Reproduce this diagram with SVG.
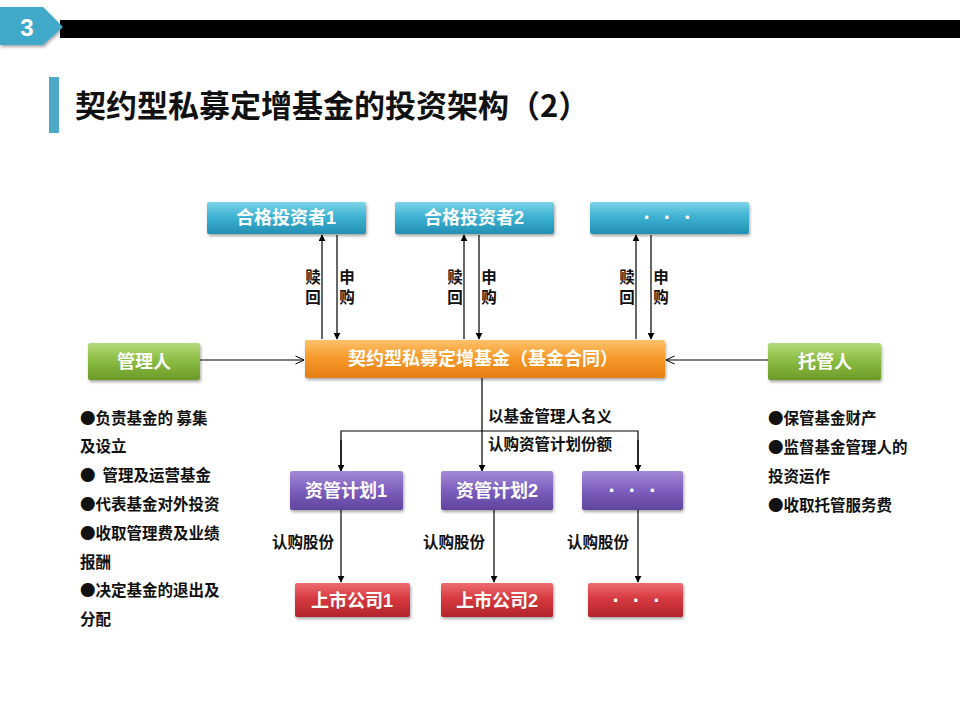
<svg xmlns="http://www.w3.org/2000/svg" width="960" height="720" viewBox="0 0 960 720">
<defs>
<linearGradient id="gTeal" x1="0" y1="0" x2="0" y2="1"><stop offset="0" stop-color="#7dd3e8"/><stop offset="0.45" stop-color="#3fb3d3"/><stop offset="1" stop-color="#2290b3"/></linearGradient>
<linearGradient id="gOrange" x1="0" y1="0" x2="0" y2="1"><stop offset="0" stop-color="#fcc26a"/><stop offset="0.45" stop-color="#f79a2c"/><stop offset="1" stop-color="#e47e12"/></linearGradient>
<linearGradient id="gGreen" x1="0" y1="0" x2="0" y2="1"><stop offset="0" stop-color="#b5d97a"/><stop offset="0.45" stop-color="#8cbd45"/><stop offset="1" stop-color="#6c9a28"/></linearGradient>
<linearGradient id="gPurple" x1="0" y1="0" x2="0" y2="1"><stop offset="0" stop-color="#a48bd6"/><stop offset="0.45" stop-color="#8062c0"/><stop offset="1" stop-color="#60439e"/></linearGradient>
<linearGradient id="gRed" x1="0" y1="0" x2="0" y2="1"><stop offset="0" stop-color="#ee6c70"/><stop offset="0.45" stop-color="#d63a40"/><stop offset="1" stop-color="#b1232a"/></linearGradient>
<filter id="sh" x="-10%" y="-20%" width="120%" height="160%"><feDropShadow dx="1" dy="2" stdDeviation="1.5" flood-color="#000" flood-opacity="0.35"/></filter>
<marker id="arr" viewBox="0 0 10 10" refX="9" refY="5" markerWidth="7" markerHeight="7" orient="auto" markerUnits="userSpaceOnUse"><path d="M0,0 L10,5 L0,10 z" fill="#000"/></marker>
<marker id="open" viewBox="0 0 10 10" refX="9.5" refY="5" markerWidth="10" markerHeight="10" orient="auto" markerUnits="userSpaceOnUse"><path d="M1,1 L9.5,5 L1,9" fill="none" stroke="#000" stroke-width="1"/></marker>
</defs>
<style>
.box{filter:url(#sh)}
.bt{font-family:"Liberation Sans","Noto Sans CJK SC",sans-serif;font-weight:bold;font-size:18px;fill:#fff;text-anchor:middle}
.dots{font-family:"Liberation Sans",sans-serif;font-weight:bold;font-size:22px;fill:#fff;text-anchor:middle;letter-spacing:13px}
.lb{font-family:"Noto Sans CJK SC",sans-serif;font-weight:bold;font-size:15.5px;fill:#111}
.ln{stroke:#000;stroke-width:1.2;fill:none}
</style>
<rect width="960" height="720" fill="#fff"/>
<g id="header">
<rect x="60" y="20" width="900" height="18" fill="#000"/>
<polygon points="0,7 43,7 63,27 43,45 0,45" fill="#3fa9c9" filter="url(#sh)"/>
<text x="27" y="36" font-family="Liberation Sans, sans-serif" font-weight="bold" font-size="24" fill="#fff" text-anchor="middle">3</text>
</g>
<g id="title">
<rect x="49" y="77" width="10" height="56" fill="#4ba9c6"/>
<text x="75" y="117" font-family="Noto Sans CJK SC, sans-serif" font-weight="bold" font-size="31" fill="#111">契约型私募定增基金的投资架构（2）</text>
</g>
<g id="connectors">
<line class="ln" x1="322" y1="339" x2="322" y2="235" marker-end="url(#arr)"/>
<line class="ln" x1="337" y1="235" x2="337" y2="339" marker-end="url(#arr)"/>
<line class="ln" x1="464" y1="339" x2="464" y2="235" marker-end="url(#arr)"/>
<line class="ln" x1="479" y1="235" x2="479" y2="339" marker-end="url(#arr)"/>
<line class="ln" x1="636" y1="339" x2="636" y2="235" marker-end="url(#arr)"/>
<line class="ln" x1="651" y1="235" x2="651" y2="339" marker-end="url(#arr)"/>
<line class="ln" x1="200" y1="360" x2="304" y2="360" marker-end="url(#open)"/>
<line class="ln" x1="768" y1="360" x2="666" y2="360" marker-end="url(#open)"/>
<line class="ln" x1="482" y1="378" x2="482" y2="471" marker-end="url(#arr)"/>
<polyline class="ln" points="341,471 341,431 638,431 638,471"/>
<line class="ln" x1="341" y1="440" x2="341" y2="471" marker-end="url(#arr)"/>
<line class="ln" x1="638" y1="440" x2="638" y2="471" marker-end="url(#arr)"/>
<line class="ln" x1="341" y1="510" x2="341" y2="582" marker-end="url(#arr)"/>
<line class="ln" x1="494" y1="510" x2="494" y2="582" marker-end="url(#arr)"/>
<line class="ln" x1="638" y1="510" x2="638" y2="582" marker-end="url(#arr)"/>
<text class="lb" x="313" y="283" text-anchor="middle">赎</text>
<text class="lb" x="313" y="303" text-anchor="middle">回</text>
<text class="lb" x="347" y="283" text-anchor="middle">申</text>
<text class="lb" x="347" y="303" text-anchor="middle">购</text>
<text class="lb" x="455" y="283" text-anchor="middle">赎</text>
<text class="lb" x="455" y="303" text-anchor="middle">回</text>
<text class="lb" x="489" y="283" text-anchor="middle">申</text>
<text class="lb" x="489" y="303" text-anchor="middle">购</text>
<text class="lb" x="627" y="283" text-anchor="middle">赎</text>
<text class="lb" x="627" y="303" text-anchor="middle">回</text>
<text class="lb" x="661" y="283" text-anchor="middle">申</text>
<text class="lb" x="661" y="303" text-anchor="middle">购</text>
<text class="lb" x="488" y="422">以基金管理人名义</text>
<text class="lb" x="488" y="450">认购资管计划份额</text>
<text class="lb" x="272" y="548">认购股份</text>
<text class="lb" x="423" y="548">认购股份</text>
<text class="lb" x="567" y="548">认购股份</text>
</g>
<g id="investor1"><rect class="box" x="207" y="202" width="159" height="32" rx="2" fill="url(#gTeal)"/><text class="bt" x="286" y="224">合格投资者1</text></g>
<g id="investor2"><rect class="box" x="395" y="202" width="159" height="32" rx="2" fill="url(#gTeal)"/><text class="bt" x="474" y="224">合格投资者2</text></g>
<g id="investor3"><rect class="box" x="590" y="202" width="159" height="32" rx="2" fill="url(#gTeal)"/><text class="dots" x="674" y="225">···</text></g>
<g id="fund"><rect class="box" x="305" y="340" width="360" height="38" rx="2" fill="url(#gOrange)"/><text class="bt" x="483" y="365">契约型私募定增基金（基金合同）</text></g>
<g id="manager"><rect class="box" x="88" y="343" width="112" height="37" rx="2" fill="url(#gGreen)"/><text class="bt" x="144" y="368">管理人</text></g>
<g id="custodian"><rect class="box" x="768" y="343" width="113" height="37" rx="2" fill="url(#gGreen)"/><text class="bt" x="825" y="368">托管人</text></g>
<g id="plan1"><rect class="box" x="290" y="471" width="113" height="39" rx="2" fill="url(#gPurple)"/><text class="bt" x="346" y="497">资管计划1</text></g>
<g id="plan2"><rect class="box" x="441" y="471" width="112" height="39" rx="2" fill="url(#gPurple)"/><text class="bt" x="497" y="497">资管计划2</text></g>
<g id="plan3"><rect class="box" x="582" y="471" width="101" height="39" rx="2" fill="url(#gPurple)"/><text class="dots" x="639" y="498">···</text></g>
<g id="company1"><rect class="box" x="295" y="583" width="115" height="34" rx="2" fill="url(#gRed)"/><text class="bt" x="352" y="607">上市公司1</text></g>
<g id="company2"><rect class="box" x="441" y="583" width="112" height="34" rx="2" fill="url(#gRed)"/><text class="bt" x="497" y="607">上市公司2</text></g>
<g id="company3"><rect class="box" x="588" y="583" width="95" height="34" rx="2" fill="url(#gRed)"/><text class="dots" x="643" y="608">···</text></g>
<g id="manager-duties">
<text class="lb" x="80" y="424">●负责基金的 募集</text>
<text class="lb" x="80" y="452">及设立</text>
<text class="lb" x="80" y="481" xml:space="preserve">●  管理及运营基金</text>
<text class="lb" x="80" y="510">●代表基金对外投资</text>
<text class="lb" x="80" y="539">●收取管理费及业绩</text>
<text class="lb" x="80" y="568">报酬</text>
<text class="lb" x="80" y="596">●决定基金的退出及</text>
<text class="lb" x="80" y="625">分配</text>
</g>
<g id="custodian-duties">
<text class="lb" x="768" y="424">●保管基金财产</text>
<text class="lb" x="768" y="453">●监督基金管理人的</text>
<text class="lb" x="768" y="482">投资运作</text>
<text class="lb" x="768" y="511">●收取托管服务费</text>
</g>
</svg>
